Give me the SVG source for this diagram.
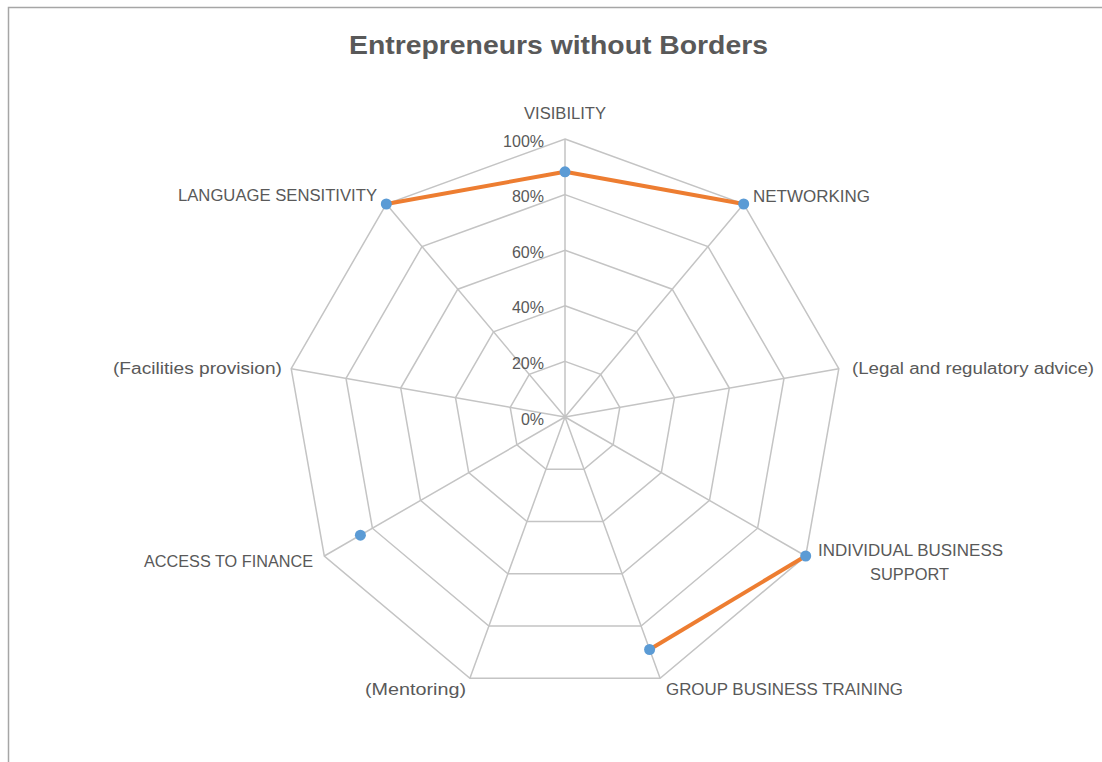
<svg xmlns="http://www.w3.org/2000/svg" width="1102" height="762" viewBox="0 0 1102 762">
<style>
.lbl{font-family:"Liberation Sans",Arial,sans-serif;font-size:16px;fill:#595959}
.tick{font-family:"Liberation Sans",Arial,sans-serif;font-size:16px;fill:#595959;text-anchor:end}
.grid{fill:none;stroke:#C4C4C4;stroke-width:1.5}
.ser{fill:none;stroke:#ED7D31;stroke-width:4;stroke-linejoin:round}
.pt{fill:#5B9BD5}
</style>
<rect width="1102" height="762" fill="#FFFFFF"/>
<rect x="8.5" y="7.5" width="1100" height="760" fill="none" stroke="#A6A6A6" stroke-width="1.5"/>
<text x="558.5" y="54" text-anchor="middle" font-family="Liberation Sans, Arial, sans-serif" font-size="26" font-weight="bold" fill="#595959" textLength="419" lengthAdjust="spacingAndGlyphs">Entrepreneurs without Borders</text>
<g id="grid">
<polygon class="grid" points="565,139 743.7,204 838.8,368.7 805.7,556 660.1,678.2 469.9,678.2 324.3,556 291.2,368.7 386.3,204"/>
<polygon class="grid" points="565,194.6 708,246.6 784,378.4 757.6,528.2 641.1,626 488.9,626 372.4,528.2 346,378.4 422,246.6"/>
<polygon class="grid" points="565,250.2 672.2,289.2 729.3,388 709.5,500.4 622.1,573.7 507.9,573.7 420.5,500.4 400.7,388 457.8,289.2"/>
<polygon class="grid" points="565,305.8 636.5,331.8 674.5,397.7 661.3,472.6 603,521.5 527,521.5 468.7,472.6 455.5,397.7 493.5,331.8"/>
<polygon class="grid" points="565,361.4 600.7,374.4 619.8,407.3 613.1,444.8 584,469.2 546,469.2 516.9,444.8 510.2,407.3 529.3,374.4"/>
<path class="grid" d="M565,417L565,139M565,417L743.7,204M565,417L838.8,368.7M565,417L805.7,556M565,417L660.1,678.2M565,417L469.9,678.2M565,417L324.3,556M565,417L291.2,368.7M565,417L386.3,204"/>
</g>
<g id="ticks">
<text class="tick" x="544" y="147">100%</text>
<text class="tick" x="544" y="202">80%</text>
<text class="tick" x="544" y="258">60%</text>
<text class="tick" x="544" y="313">40%</text>
<text class="tick" x="544" y="369">20%</text>
<text class="tick" x="544" y="425">0%</text>
</g>
<g id="connectors">
<polyline class="ser" points="386.3,204 565,171.8 743.7,204"/>
<polyline class="ser" points="805.7,556 649.6,649.5"/>
</g>
<g id="points">
<circle class="pt" cx="565" cy="171.8" r="5.5"/>
<circle class="pt" cx="743.7" cy="204" r="5.5"/>
<circle class="pt" cx="805.7" cy="556" r="5.5"/>
<circle class="pt" cx="649.6" cy="649.5" r="5.5"/>
<circle class="pt" cx="360.4" cy="535.2" r="5.5"/>
<circle class="pt" cx="386.3" cy="204" r="5.5"/>
</g>
<g id="visibility"><text class="lbl" x="565" y="119" text-anchor="middle" textLength="82" lengthAdjust="spacingAndGlyphs">VISIBILITY</text></g>
<g id="networking"><text class="lbl" x="753" y="202" textLength="117" lengthAdjust="spacingAndGlyphs">NETWORKING</text></g>
<g id="legal"><text class="lbl" x="852" y="374" textLength="242" lengthAdjust="spacingAndGlyphs">(Legal and regulatory advice)</text></g>
<g id="individual"><text class="lbl" x="818" y="556" textLength="185" lengthAdjust="spacingAndGlyphs">INDIVIDUAL BUSINESS</text><text class="lbl" x="870" y="580" textLength="79" lengthAdjust="spacingAndGlyphs">SUPPORT</text></g>
<g id="group"><text class="lbl" x="666" y="695" textLength="237" lengthAdjust="spacingAndGlyphs">GROUP BUSINESS TRAINING</text></g>
<g id="mentoring"><text class="lbl" x="365" y="695" textLength="101" lengthAdjust="spacingAndGlyphs">(Mentoring)</text></g>
<g id="finance"><text class="lbl" x="313" y="567" text-anchor="end" textLength="169" lengthAdjust="spacingAndGlyphs">ACCESS TO FINANCE</text></g>
<g id="facilities"><text class="lbl" x="282" y="374" text-anchor="end" textLength="169" lengthAdjust="spacingAndGlyphs">(Facilities provision)</text></g>
<g id="language"><text class="lbl" x="377" y="201" text-anchor="end" textLength="199" lengthAdjust="spacingAndGlyphs">LANGUAGE SENSITIVITY</text></g>
</svg>
